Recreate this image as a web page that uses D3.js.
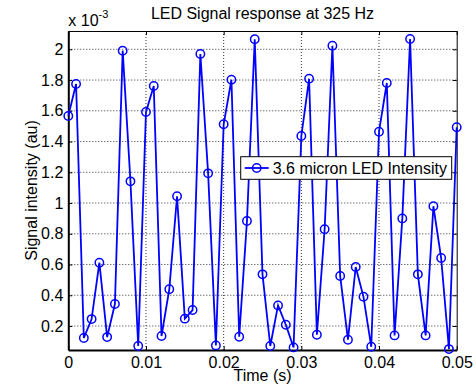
<!DOCTYPE html>
<html lang="en">
<head>
    <meta charset="UTF-8">
    <title>LED Signal response at 325 Hz</title>
    <style>
        body { margin: 0; background: #fff; }
        text { font-family: 'Liberation Sans', Arial, sans-serif; fill: #000; }
        .tick text { font-size: 16px; }
        .grid line { stroke: #000; stroke-width: 0.8; stroke-dasharray: 1,2; }
    </style>
</head>
<body>

    <svg width="476" height="388"></svg>

    <script src="https://d3js.org/d3.v7.min.js"></script>

    <script>

        // Data (time in s, signal in au)
        const timeValues = [
            0.000, 0.001, 0.002, 0.003, 0.004, 0.005, 0.006, 0.007, 0.008, 0.009,
            0.010, 0.011, 0.012, 0.013, 0.014, 0.015, 0.016, 0.017, 0.018, 0.019,
            0.020, 0.021, 0.022, 0.023, 0.024, 0.025, 0.026, 0.027, 0.028, 0.029,
            0.030, 0.031, 0.032, 0.033, 0.034, 0.035, 0.036, 0.037, 0.038, 0.039,
            0.040, 0.041, 0.042, 0.043, 0.044, 0.045, 0.046, 0.047, 0.048, 0.049,
            0.050
        ];

        const signalValues = [
            1.566e-3, 1.774e-3, 0.122e-3, 0.245e-3, 0.612e-3, 0.128e-3, 0.343e-3, 1.991e-3, 1.141e-3, 0.070e-3,
            1.592e-3, 1.761e-3, 0.135e-3, 0.439e-3, 1.044e-3, 0.248e-3, 0.304e-3, 1.969e-3, 1.193e-3, 0.074e-3,
            1.512e-3, 1.802e-3, 0.130e-3, 0.883e-3, 2.065e-3, 0.536e-3, 0.070e-3, 0.334e-3, 0.208e-3, 0.061e-3,
            1.436e-3, 1.809e-3, 0.143e-3, 0.829e-3, 2.023e-3, 0.525e-3, 0.111e-3, 0.584e-3, 0.390e-3, 0.065e-3,
            1.464e-3, 1.781e-3, 0.139e-3, 0.900e-3, 2.067e-3, 0.536e-3, 0.139e-3, 0.979e-3, 0.642e-3, 0.050e-3,
            1.493e-3
        ];

        const xTicks = [0, 0.01, 0.02, 0.03, 0.04, 0.05];
        const xTickLabels = ['0', '0.01', '0.02', '0.03', '0.04', '0.05'];
        const yTicks = [0.2e-3, 0.4e-3, 0.6e-3, 0.8e-3, 1.0e-3, 1.2e-3, 1.4e-3, 1.6e-3, 1.8e-3, 2.0e-3];
        const yTickLabels = ['0.2', '0.4', '0.6', '0.8', '1', '1.2', '1.4', '1.6', '1.8', '2'];

        const titleText = 'LED Signal response at 325 Hz';
        const xLabel = 'Time (s)';
        const yLabel = 'Signal intensity (au)';
        const seriesLabel = '3.6 micron LED Intensity';

        const margin = { left: 68.3, right: 19.3, top: 31, bottom: 38 };

        const svg = d3.select('svg');
        const width = +svg.attr('width');
        const height = +svg.attr('height');
        const innerWidth = width - margin.left - margin.right;
        const innerHeight = height - margin.top - margin.bottom;

        const blue = '#0000ff';

        const xScale = d3.scaleLinear()
            .domain([0, 0.05])
            .range([0, innerWidth]);

        const yScale = d3.scaleLinear()
            .domain([0.044e-3, 2.119e-3])
            .range([innerHeight, 0]);

        const group = svg.append('g')
            .attr('transform', 'translate(' + margin.left + ' ' + margin.top + ')');

        // Dotted grid
        const gridG = group.append('g')
            .attr('class', 'grid');

        gridG.selectAll('line.gx')
            .data(xTicks.slice(1, -1))
            .enter()
            .append('line')
            .attr('class', 'gx')
            .attr('x1', function (d) { return xScale(d); })
            .attr('x2', function (d) { return xScale(d); })
            .attr('y1', 0)
            .attr('y2', innerHeight);

        gridG.selectAll('line.gy')
            .data(yTicks)
            .enter()
            .append('line')
            .attr('class', 'gy')
            .attr('x1', 0)
            .attr('x2', innerWidth)
            .attr('y1', function (d) { return yScale(d); })
            .attr('y2', function (d) { return yScale(d); });

        // Axes, ticks pointing inward (MATLAB box style)
        const xAxis = d3.axisBottom(xScale)
            .tickValues(xTicks)
            .tickFormat(function (d, i) { return xTickLabels[i]; })
            .tickSizeInner(-4)
            .tickSizeOuter(0)
            .tickPadding(7);

        const yAxis = d3.axisLeft(yScale)
            .tickValues(yTicks)
            .tickFormat(function (d, i) { return yTickLabels[i]; })
            .tickSizeInner(-4)
            .tickSizeOuter(0)
            .tickPadding(5);

        const xAxisG = group.append('g')
            .attr('transform', 'translate(0 ' + innerHeight + ')')
            .call(xAxis);

        const yAxisG = group.append('g')
            .call(yAxis);

        const xTopG = group.append('g')
            .call(d3.axisTop(xScale).tickValues(xTicks).tickSizeInner(-4).tickSizeOuter(0));

        const yRightG = group.append('g')
            .attr('transform', 'translate(' + innerWidth + ' 0)')
            .call(d3.axisRight(yScale).tickValues(yTicks).tickSizeInner(-4).tickSizeOuter(0));

        // the mirrored axes only carry tick marks
        xTopG.selectAll('.tick text').remove();
        yRightG.selectAll('.tick text').remove();

        [xAxisG, yAxisG, xTopG, yRightG].forEach(function (g) {
            g.selectAll('.tick line').attr('stroke', '#000');
            g.select('.domain').attr('stroke', '#000');
            g.selectAll('.tick text').attr('fill', '#000').style('font-size', '16px');
        });
        xAxisG.select('.domain').attr('stroke-width', 2);
        yAxisG.select('.domain').attr('stroke-width', 2);

        // Series line and circle markers
        const points = timeValues.map(function (t, i) {
            return { time: t, signal: signalValues[i] };
        });

        const line = d3.line()
            .x(function (d) { return xScale(d.time); })
            .y(function (d) { return yScale(d.signal); });

        group.append('path')
            .datum(points)
            .attr('d', line)
            .attr('fill', 'none')
            .attr('stroke', blue)
            .attr('stroke-width', 1.8);

        group.selectAll('circle.pt')
            .data(points)
            .enter()
            .append('circle')
            .attr('class', 'pt')
            .attr('cx', function (d) { return xScale(d.time); })
            .attr('cy', function (d) { return yScale(d.signal); })
            .attr('r', 4.2)
            .attr('fill', 'none')
            .attr('stroke', blue)
            .attr('stroke-width', 1.5);

        // Legend
        const legendG = group.append('g')
            .attr('transform', 'translate(' + (240.7 - margin.left) + ' ' + (156.7 - margin.top) + ')');

        legendG.append('rect')
            .attr('width', 211)
            .attr('height', 22.6)
            .attr('fill', '#fff')
            .attr('stroke', '#000')
            .attr('stroke-width', 1);

        legendG.append('line')
            .attr('x1', 4)
            .attr('x2', 28)
            .attr('y1', 11.3)
            .attr('y2', 11.3)
            .attr('stroke', blue)
            .attr('stroke-width', 1.8);

        legendG.append('circle')
            .attr('cx', 16)
            .attr('cy', 11.3)
            .attr('r', 4.2)
            .attr('fill', 'none')
            .attr('stroke', blue)
            .attr('stroke-width', 1.5);

        legendG.append('text')
            .attr('x', 32)
            .attr('y', 17)
            .style('font-size', '16px')
            .text(seriesLabel);

        // Title, exponent and axis labels
        svg.append('text')
            .attr('x', margin.left + innerWidth / 2)
            .attr('y', 18.5)
            .attr('text-anchor', 'middle')
            .style('font-size', '16px')
            .text(titleText);

        const expText = svg.append('text')
            .attr('x', 68.3)
            .attr('y', 26)
            .style('font-size', '16px');
        expText.append('tspan').text('x 10');
        expText.append('tspan')
            .attr('dy', -8)
            .style('font-size', '11px')
            .text('-3');

        svg.append('text')
            .attr('x', margin.left + innerWidth / 2)
            .attr('y', 381)
            .attr('text-anchor', 'middle')
            .style('font-size', '16px')
            .text(xLabel);

        svg.append('text')
            .attr('transform', 'translate(37 ' + (margin.top + innerHeight / 2) + ') rotate(-90)')
            .attr('text-anchor', 'middle')
            .style('font-size', '16px')
            .text(yLabel);

    </script>

</body>
</html>
